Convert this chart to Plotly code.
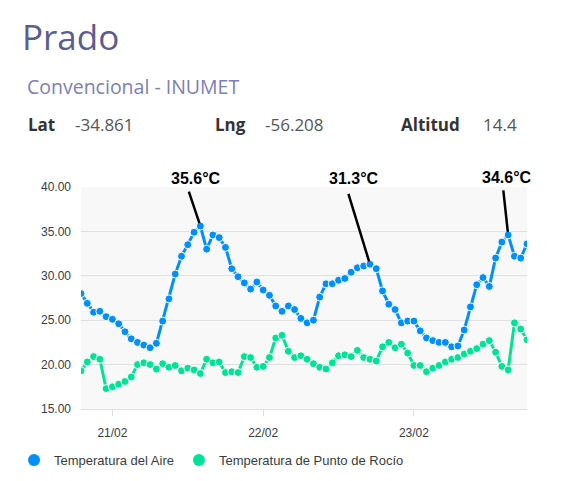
import pandas as pd
import plotly.graph_objects as go

# station header
station = "Prado"
network = "Convencional - INUMET"
meta_labels = ["Lat", "Lng", "Altitud"]
meta_values = ["-34.861", "-56.208", "14.4"]

# hourly readings, 20/02 19:00 -> 23/02 18:00
hours = pd.date_range("2024-02-20 19:00", periods=72, freq="h")
aire = [28.0, 26.9, 25.9, 26.0, 25.4, 25.1, 24.6, 23.7, 22.9, 22.5,
        22.2, 21.9, 22.4, 24.9, 27.4, 30.2, 32.2, 33.5, 34.9, 35.6,
        33.0, 34.6, 34.3, 33.2, 30.8, 29.9, 29.2, 28.5, 29.3, 28.4,
        27.8, 26.6, 26.0, 26.6, 26.2, 25.2, 24.7, 25.0, 27.6, 29.1,
        29.1, 29.5, 29.7, 30.4, 30.9, 31.1, 31.3, 30.8, 28.3, 26.8,
        26.2, 24.7, 24.9, 24.9, 23.8, 23.0, 22.7, 22.5, 22.5, 22.0,
        22.1, 23.9, 26.5, 29.0, 29.8, 28.8, 32.0, 33.8, 34.6, 32.2,
        32.0, 33.6]
rocio = [19.3, 20.3, 20.9, 20.6, 17.3, 17.5, 17.8, 18.1, 18.6, 20.0,
         20.2, 20.0, 19.5, 20.1, 19.7, 19.9, 19.3, 19.6, 19.4, 19.0,
         20.6, 20.2, 20.3, 19.1, 19.2, 19.1, 20.9, 20.8, 19.7, 19.8,
         20.8, 23.0, 23.3, 21.5, 20.8, 21.0, 20.6, 20.1, 19.7, 19.5,
         20.2, 21.0, 21.1, 20.9, 21.6, 20.8, 20.6, 20.4, 22.0, 22.5,
         21.9, 22.3, 21.3, 19.9, 19.9, 19.2, 19.6, 19.9, 20.3, 20.6,
         20.8, 21.2, 21.5, 21.8, 22.3, 22.7, 21.4, 19.8, 19.4, 24.7,
         24.0, 22.8]

tick_days = pd.to_datetime(["2024-02-21", "2024-02-22", "2024-02-23"])
tick_text = ["21/02", "22/02", "23/02"]

blue = "#008FFB"
green = "#00E396"

# page is 566x481, the html body adds an 8px margin
O = 8
W, H = 566 - O, 481 - O
L, R, T, B = 81 - O, 39, 187 - O, 72
def px(x):  # page pixel -> paper
    return (x - O - L) / (W - L - R)
def py(y):
    return (H - B - (y - O)) / (H - T - B)

fig = go.Figure()
for name, vals, col in [("Temperatura del Aire", aire, blue),
                        ("Temperatura de Punto de Rocío", rocio, green)]:
    fig.add_trace(go.Scatter(x=hours, y=vals, mode="lines+markers", name=name,
                             line=dict(color=col, width=3),
                             marker=dict(size=8, color=col, line=dict(color="white", width=1)),
                             showlegend=False))
    # legend entry with only the round marker
    fig.add_trace(go.Scatter(x=[None], y=[None], mode="markers", name=name,
                             marker=dict(size=12, color=col)))

# daily maxima of air temperature
df = pd.DataFrame({"t": hours, "aire": aire})
peaks = df.loc[df.groupby(df.t.dt.date)["aire"].idxmax()]
peaks = peaks[peaks.t >= tick_days[0]]

text_shift = [(-4, 48), (-16, 86), (-1, 57)]
line_tail = [(-12, -36), (-22, -72), (-5, -46)]
for (t, v), (sx, sy), (ax, ay) in zip(peaks[["t", "aire"]].values, text_shift, line_tail):
    fig.add_annotation(x=t, y=v, text="", showarrow=True, ax=ax, ay=ay,
                       arrowhead=0, arrowwidth=2.5, arrowcolor="black", standoff=3)
    fig.add_annotation(x=t, y=v, text="<b>%.1f°C</b>" % v, showarrow=False,
                       xshift=sx, yshift=sy,
                       font=dict(family="Liberation Sans, Arial", size=16, color="black"))

# header
fig.add_annotation(xref="paper", yref="paper", x=px(20), y=py(36), xanchor="left",
                   yanchor="middle", text=station, showarrow=False,
                   font=dict(family="Open Sans", size=35, color="#595e8f"))
fig.add_annotation(xref="paper", yref="paper", x=px(25), y=py(86), xanchor="left",
                   yanchor="middle", text=network, showarrow=False,
                   font=dict(family="Open Sans", size=19.5, color="#7b80b6"))
label_x = [26, 213, 399]
value_x = [73, 263, 481]
for lab, val, lx, vx in zip(meta_labels, meta_values, label_x, value_x):
    fig.add_annotation(xref="paper", yref="paper", x=px(lx), y=py(124), xanchor="left",
                       yanchor="middle", text="<b>%s</b>" % lab, showarrow=False,
                       font=dict(family="Open Sans", size=17, color="#333333"))
    fig.add_annotation(xref="paper", yref="paper", x=px(vx), y=py(124), xanchor="left",
                       yanchor="middle", text=val, showarrow=False,
                       font=dict(family="Open Sans", size=17, color="#555555"))

# faint panel border at right edge
fig.add_shape(type="line", xref="paper", yref="paper", x0=px(564.5), x1=px(564.5),
              y0=py(50), y1=py(481), line=dict(color="#cfe0df", width=1))

fig.update_layout(
    width=W, height=H,
    margin=dict(l=L, r=R, t=T, b=B, autoexpand=False),
    paper_bgcolor="white",
    plot_bgcolor="#f8f8f8",
    font=dict(family="Liberation Sans, Arial", size=12, color="#373d3f"),
    legend=dict(orientation="h", x=px(14), y=py(445), xanchor="left", yanchor="top",
                font=dict(size=13, color="#373d3f"), itemwidth=30,
                bgcolor="rgba(0,0,0,0)"),
    xaxis=dict(range=[hours[0], hours[-1]], tickvals=tick_days, ticktext=tick_text,
               showgrid=False, showline=True, linecolor="#e0e0e0", ticks="outside",
               ticklen=6, tickcolor="#e0e0e0", ticklabelstandoff=7, zeroline=False),
    yaxis=dict(range=[15, 40], dtick=5, tickformat=".2f", gridcolor="#e0e0e0",
               zeroline=False, ticklabelstandoff=9),
)

fig.write_html("out.html")
